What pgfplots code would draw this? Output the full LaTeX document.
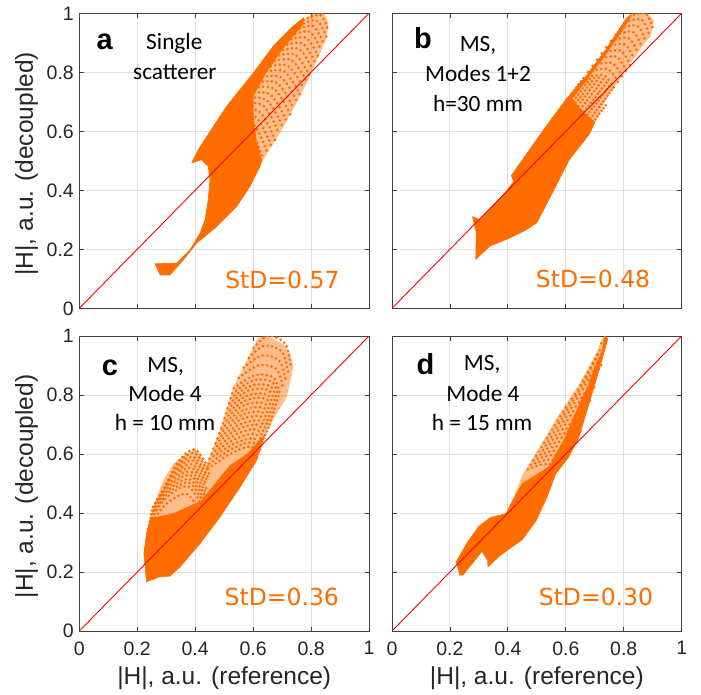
\documentclass[border=0pt]{standalone}
\usepackage{pgfplots}
\pgfplotsset{compat=1.18}
\usepackage{fontspec}
\setmainfont{Liberation Sans}
\newfontfamily\annfont{Carlito}
\newfontfamily\stdfont{DejaVu Sans}
\definecolor{orng}{RGB}{255,108,0}
\definecolor{gridc}{RGB}{223,223,223}
\definecolor{axc}{RGB}{64,64,64}
\definecolor{txtc}{RGB}{38,38,38}
\pgfplotsset{
  panel/.style={
    scale only axis, width=289.7pt, height=295pt, anchor=south west,
    xmin=0, xmax=1, ymin=0, ymax=1,
    xtick={0,0.2,0.4,0.6,0.8,1}, ytick={0,0.2,0.4,0.6,0.8,1},
    tick pos=both, tick align=inside, major tick length=4.5pt,
    grid=major, major grid style={gridc, line width=0.9pt},
    axis line style={axc, line width=0.9pt},
    tick style={axc, line width=0.8pt},
    tick label style={font=\fontsize{19.5}{20}\selectfont, text=txtc},
    /pgf/number format/assume math mode=true,
    xticklabel style={yshift=-7pt},
    yticklabel style={xshift=-2pt},
    label style={font=\fontsize{24.5}{26}\selectfont, text=txtc},
    xlabel style={at={(axis description cs:0.5,-0.161)}, anchor=center},
    ylabel style={at={(axis description cs:-0.1816,0.49)}, anchor=center},
  },
}
\tikzset{
  halo/.style={draw=none, fill=orng, fill opacity=0.45},
  core/.style={draw=orng, fill=orng, line width=0.6pt, line join=round},
  dots/.style={orng, line width=2.9pt, line cap=round, dash pattern=on 0pt off 4.6pt, smooth, tension=0.55},
  diag/.style={red, line width=0.9pt},
  ann/.style={anchor=base, font=\annfont\fontsize{23.3}{28}\selectfont, text=black},
  std/.style={anchor=base, font=\stdfont\fontsize{23.5}{28}\selectfont, text=orng},
  lett/.style={anchor=base west, font=\bfseries\fontsize{29}{30}\selectfont, text=black},
}
\begin{document}
\begin{tikzpicture}[x=1pt,y=1pt]
\path[use as bounding box] (0,0) rectangle (701,694);

% ---------------- panel a
\begin{axis}[panel, at={(79.3pt,385.7pt)}, xticklabels={},
  ylabel={|H|, a.u. (decoupled)}]
\addplot[halo] coordinates {(0.463,0.617)(0.509,0.685)(0.601,0.798)(0.670,0.889)(0.739,0.957)(0.808,1.0)(0.845,1.0)(0.860,0.97)
 (0.855,0.92)(0.831,0.866)(0.785,0.764)(0.750,0.697)(0.693,0.595)(0.635,0.504)(0.589,0.413)(0.55,0.45)} -- cycle;
\addplot[core] coordinates {(0.388,0.493)(0.411,0.538)(0.463,0.617)(0.509,0.685)(0.601,0.798)(0.670,0.889)(0.739,0.957)(0.775,0.985)
 (0.77,0.96)(0.705,0.885)(0.645,0.80)(0.60,0.72)(0.60,0.66)(0.61,0.57)(0.63,0.50)(0.623,0.48)(0.589,0.413)(0.543,0.345)
 (0.474,0.277)(0.405,0.221)(0.359,0.164)(0.313,0.113)(0.279,0.113)(0.261,0.151)(0.336,0.153)(0.382,0.198)(0.417,0.255)
 (0.434,0.300)(0.445,0.368)(0.451,0.436)(0.445,0.481)(0.422,0.504)} -- cycle;
\addplot[dots] coordinates {(0.470,0.620)(0.582,0.612)(0.635,0.504)};
\addplot[dots] coordinates {(0.485,0.638)(0.594,0.631)(0.649,0.526)};
\addplot[dots] coordinates {(0.499,0.655)(0.607,0.650)(0.663,0.548)};
\addplot[dots] coordinates {(0.514,0.673)(0.619,0.669)(0.676,0.569)};
\addplot[dots] coordinates {(0.528,0.690)(0.632,0.689)(0.690,0.591)};
\addplot[dots] coordinates {(0.543,0.708)(0.644,0.708)(0.703,0.613)};
\addplot[dots] coordinates {(0.557,0.725)(0.656,0.727)(0.715,0.635)};
\addplot[dots] coordinates {(0.572,0.743)(0.669,0.746)(0.728,0.657)};
\addplot[dots] coordinates {(0.586,0.760)(0.681,0.765)(0.739,0.678)};
\addplot[dots] coordinates {(0.601,0.778)(0.694,0.784)(0.752,0.700)};
\addplot[dots] coordinates {(0.615,0.795)(0.706,0.804)(0.763,0.722)};
\addplot[dots] coordinates {(0.630,0.813)(0.718,0.823)(0.775,0.744)};
\addplot[dots] coordinates {(0.644,0.830)(0.731,0.842)(0.786,0.766)};
\addplot[dots] coordinates {(0.659,0.848)(0.743,0.861)(0.795,0.787)};
\addplot[dots] coordinates {(0.673,0.865)(0.756,0.880)(0.805,0.809)};
\addplot[dots] coordinates {(0.688,0.883)(0.768,0.899)(0.815,0.831)};
\addplot[dots] coordinates {(0.702,0.900)(0.780,0.918)(0.825,0.853)};
\addplot[dots] coordinates {(0.717,0.918)(0.793,0.938)(0.835,0.875)};
\addplot[dots] coordinates {(0.731,0.935)(0.805,0.957)(0.844,0.896)};
\addplot[dots] coordinates {(0.746,0.953)(0.818,0.976)(0.854,0.918)};
\addplot[dots] coordinates {(0.760,0.970)(0.830,0.995)(0.860,0.940)};
\addplot[diag] coordinates {(0,0)(1,1)};
\node[lett] at (axis cs:0.048,0.878) {a};
\node[ann] at (axis cs:0.328,0.878) {Single};
\node[ann] at (axis cs:0.330,0.776) {scatterer};
\node[std] at (axis cs:0.701,0.068) {StD=0.57};
\end{axis}

% ---------------- panel b
\begin{axis}[panel, at={(392pt,385.7pt)}, xticklabels={}, yticklabels={}]
\addplot[halo] coordinates {(0.412,0.45)(0.475,0.538)(0.532,0.617)(0.601,0.708)(0.670,0.787)(0.739,0.878)(0.807,0.980)(0.842,1.0)
 (0.882,1.0)(0.904,0.975)(0.893,0.923)(0.865,0.889)(0.807,0.810)(0.739,0.708)(0.681,0.59)(0.612,0.504)(0.565,0.45)} -- cycle;
\addplot[core] coordinates {(0.412,0.45)(0.475,0.538)(0.532,0.617)(0.601,0.708)(0.670,0.787)(0.739,0.878)(0.807,0.980)(0.83,1.0)
 (0.80,0.95)(0.73,0.85)(0.66,0.76)(0.62,0.71)(0.66,0.665)(0.70,0.63)(0.681,0.59)(0.612,0.504)(0.565,0.413)(0.50,0.29)
 (0.463,0.266)(0.417,0.243)(0.337,0.210)(0.289,0.166)(0.291,0.255)(0.278,0.311)(0.303,0.300)(0.337,0.334)(0.394,0.396)(0.42,0.43)} -- cycle;
\addplot[dots] coordinates {(0.548,0.633)(0.629,0.643)(0.679,0.593)};
\addplot[dots] coordinates {(0.556,0.644)(0.636,0.654)(0.686,0.604)};
\addplot[dots] coordinates {(0.564,0.654)(0.643,0.664)(0.692,0.614)};
\addplot[dots] coordinates {(0.572,0.665)(0.650,0.675)(0.699,0.625)};
\addplot[dots] coordinates {(0.580,0.675)(0.658,0.685)(0.705,0.635)};
\addplot[dots] coordinates {(0.588,0.686)(0.665,0.696)(0.712,0.646)};
\addplot[dots] coordinates {(0.596,0.696)(0.672,0.706)(0.718,0.656)};
\addplot[dots] coordinates {(0.604,0.707)(0.679,0.717)(0.725,0.667)};
\addplot[dots] coordinates {(0.612,0.717)(0.687,0.727)(0.731,0.677)};
\addplot[dots] coordinates {(0.620,0.728)(0.694,0.738)(0.738,0.688)};
\addplot[dots] coordinates {(0.628,0.738)(0.701,0.748)(0.744,0.698)};
\addplot[dots] coordinates {(0.636,0.749)(0.708,0.759)(0.751,0.709)};
\addplot[dots] coordinates {(0.644,0.759)(0.716,0.769)(0.757,0.719)};
\addplot[dots] coordinates {(0.652,0.770)(0.723,0.780)(0.764,0.730)};
\addplot[dots] coordinates {(0.660,0.780)(0.730,0.790)(0.770,0.740)};
\addplot[dots] coordinates {(0.676,0.801)(0.745,0.811)(0.783,0.761)};
\addplot[dots] coordinates {(0.692,0.822)(0.759,0.832)(0.796,0.782)};
\addplot[dots] coordinates {(0.708,0.843)(0.774,0.853)(0.809,0.803)};
\addplot[dots] coordinates {(0.724,0.864)(0.788,0.874)(0.822,0.824)};
\addplot[dots] coordinates {(0.740,0.885)(0.803,0.895)(0.835,0.845)};
\addplot[dots] coordinates {(0.756,0.906)(0.817,0.916)(0.848,0.866)};
\addplot[dots] coordinates {(0.772,0.927)(0.832,0.937)(0.861,0.887)};
\addplot[dots] coordinates {(0.788,0.948)(0.846,0.958)(0.874,0.908)};
\addplot[dots] coordinates {(0.804,0.969)(0.861,0.979)(0.887,0.929)};
\addplot[dots] coordinates {(0.820,0.990)(0.875,1.000)(0.900,0.950)};
\addplot[diag] coordinates {(0,0)(1,1)};
\node[lett] at (axis cs:0.064,0.880) {b};
\node[ann] at (axis cs:0.297,0.872) {MS,};
\node[ann] at (axis cs:0.297,0.770) {Modes 1+2};
\node[ann] at (axis cs:0.297,0.668) {h=30 mm};
\node[std] at (axis cs:0.694,0.071) {StD=0.48};
\end{axis}

% ---------------- panel c
\begin{axis}[panel, at={(79.3pt,63pt)},
  xlabel={|H|, a.u. (reference)}, ylabel={|H|, a.u. (decoupled)}]
\addplot[halo] coordinates {(0.232,0.167)(0.223,0.263)(0.232,0.330)(0.255,0.421)(0.290,0.511)(0.325,0.567)(0.371,0.601)(0.399,0.618)
 (0.417,0.601)(0.434,0.556)(0.440,0.567)(0.463,0.623)(0.486,0.680)(0.532,0.826)(0.601,0.962)(0.618,0.995)(0.647,1.0)(0.704,0.973)
 (0.727,0.939)(0.739,0.894)(0.716,0.793)(0.681,0.736)(0.640,0.665)(0.612,0.578)(0.555,0.488)(0.486,0.387)(0.417,0.297)
 (0.348,0.218)(0.313,0.186)(0.278,0.184)} -- cycle;
\addplot[core] coordinates {(0.232,0.167)(0.223,0.263)(0.232,0.330)(0.245,0.38)(0.33,0.40)(0.42,0.44)(0.47,0.50)(0.52,0.56)
 (0.58,0.60)(0.64,0.665)(0.612,0.578)(0.555,0.488)(0.486,0.387)(0.417,0.297)(0.348,0.218)(0.313,0.186)(0.278,0.184)} -- cycle;
% big lobe
\addplot[dots] coordinates {(0.445,0.550)(0.520,0.600)(0.590,0.625)(0.620,0.600)};
\addplot[dots] coordinates {(0.448,0.567)(0.526,0.617)(0.595,0.640)(0.625,0.613)};
\addplot[dots] coordinates {(0.450,0.584)(0.531,0.633)(0.600,0.654)(0.629,0.625)};
\addplot[dots] coordinates {(0.457,0.601)(0.537,0.650)(0.605,0.669)(0.634,0.638)};
\addplot[dots] coordinates {(0.463,0.618)(0.542,0.667)(0.610,0.684)(0.638,0.650)};
\addplot[dots] coordinates {(0.470,0.636)(0.548,0.684)(0.615,0.699)(0.643,0.663)};
\addplot[dots] coordinates {(0.477,0.653)(0.553,0.700)(0.620,0.713)(0.648,0.675)};
\addplot[dots] coordinates {(0.484,0.670)(0.558,0.717)(0.625,0.728)(0.653,0.688)};
\addplot[dots] coordinates {(0.490,0.687)(0.563,0.733)(0.630,0.742)(0.657,0.700)};
\addplot[dots] coordinates {(0.496,0.704)(0.569,0.750)(0.635,0.757)(0.662,0.713)};
\addplot[dots] coordinates {(0.501,0.721)(0.574,0.767)(0.640,0.771)(0.666,0.725)};
\addplot[dots] coordinates {(0.507,0.738)(0.580,0.784)(0.645,0.786)(0.671,0.738)};
\addplot[dots] coordinates {(0.512,0.755)(0.585,0.800)(0.650,0.800)(0.675,0.750)};
\addplot[dots] coordinates {(0.517,0.772)(0.591,0.817)(0.655,0.815)(0.680,0.763)};
\addplot[dots] coordinates {(0.522,0.789)(0.596,0.833)(0.660,0.829)(0.684,0.775)};
\addplot[dots] coordinates {(0.528,0.806)(0.602,0.850)(0.665,0.844)(0.689,0.788)};
\addplot[dots] coordinates {(0.533,0.823)(0.607,0.867)(0.670,0.859)(0.693,0.800)};
\addplot[dots] coordinates {(0.550,0.858)(0.618,0.900)(0.680,0.888)(0.703,0.825)};
\addplot[dots] coordinates {(0.567,0.892)(0.628,0.933)(0.690,0.917)(0.712,0.850)};
\addplot[dots] coordinates {(0.585,0.926)(0.639,0.967)(0.700,0.946)(0.721,0.875)};
\addplot[dots] coordinates {(0.602,0.960)(0.650,1.000)(0.710,0.975)(0.730,0.900)};
% small lobe
\addplot[dots] coordinates {(0.303,0.495)(0.342,0.575)(0.400,0.615)(0.450,0.545)};
\addplot[dots] coordinates {(0.295,0.483)(0.337,0.563)(0.398,0.603)(0.448,0.533)};
\addplot[dots] coordinates {(0.287,0.470)(0.331,0.550)(0.395,0.590)(0.445,0.520)};
\addplot[dots] coordinates {(0.279,0.458)(0.326,0.538)(0.393,0.578)(0.443,0.508)};
\addplot[dots] coordinates {(0.270,0.445)(0.320,0.525)(0.390,0.565)(0.440,0.495)};
\addplot[dots] coordinates {(0.262,0.433)(0.315,0.513)(0.388,0.553)(0.438,0.483)};
\addplot[dots] coordinates {(0.254,0.420)(0.310,0.500)(0.385,0.540)(0.435,0.470)};
\addplot[dots] coordinates {(0.251,0.408)(0.307,0.488)(0.383,0.528)(0.433,0.458)};
\addplot[dots] coordinates {(0.248,0.395)(0.304,0.475)(0.380,0.515)(0.430,0.445)};
\addplot[dots] coordinates {(0.246,0.383)(0.302,0.463)(0.378,0.503)(0.428,0.433)};
\addplot[dots] coordinates {(0.243,0.370)(0.299,0.450)(0.375,0.490)(0.425,0.420)};
\addplot[dots] coordinates {(0.237,0.345)(0.294,0.425)(0.370,0.465)(0.420,0.395)};
\addplot[diag] coordinates {(0,0)(1,1)};
\node[lett] at (axis cs:0.066,0.866) {c};
\node[ann] at (axis cs:0.298,0.877) {MS,};
\node[ann] at (axis cs:0.296,0.778) {Mode 4};
\node[ann] at (axis cs:0.296,0.680) {h = 10 mm};
\node[std] at (axis cs:0.699,0.085) {StD=0.36};
\end{axis}

% ---------------- panel d
\begin{axis}[panel, at={(392pt,63pt)}, yticklabels={},
  xlabel={|H|, a.u. (reference)}]
\addplot[halo] coordinates {(0.394,0.398)(0.415,0.44)(0.452,0.533)(0.509,0.623)(0.578,0.736)(0.647,0.838)(0.704,0.939)(0.727,0.995)
 (0.735,1.0)(0.745,0.99)(0.714,0.883)(0.680,0.770)(0.645,0.657)(0.61,0.59)(0.565,0.533)(0.535,0.454)} -- cycle;
\addplot[core] coordinates {(0.234,0.189)(0.222,0.235)(0.26,0.30)(0.30,0.355)(0.34,0.385)(0.394,0.398)(0.415,0.44)(0.45,0.50)
 (0.50,0.53)(0.545,0.56)(0.561,0.59)(0.595,0.65)(0.621,0.71)(0.648,0.77)(0.676,0.83)(0.700,0.89)(0.726,0.95)(0.735,1.0)
 (0.745,0.99)(0.714,0.883)(0.680,0.770)(0.645,0.657)(0.61,0.59)(0.565,0.533)(0.535,0.454)(0.498,0.375)(0.45,0.31)(0.40,0.275)
 (0.372,0.255)(0.331,0.217)(0.33,0.24)(0.31,0.27)(0.27,0.22)(0.245,0.19)} -- cycle;
\addplot[dots] coordinates {(0.469,0.548)(0.528,0.566)(0.586,0.556)};
\addplot[dots] coordinates {(0.479,0.563)(0.539,0.581)(0.598,0.571)};
\addplot[dots] coordinates {(0.488,0.578)(0.549,0.596)(0.610,0.586)};
\addplot[dots] coordinates {(0.498,0.593)(0.558,0.611)(0.618,0.601)};
\addplot[dots] coordinates {(0.507,0.608)(0.567,0.626)(0.626,0.616)};
\addplot[dots] coordinates {(0.516,0.623)(0.575,0.641)(0.634,0.631)};
\addplot[dots] coordinates {(0.525,0.638)(0.583,0.656)(0.641,0.646)};
\addplot[dots] coordinates {(0.535,0.653)(0.591,0.671)(0.647,0.661)};
\addplot[dots] coordinates {(0.544,0.668)(0.598,0.686)(0.652,0.676)};
\addplot[dots] coordinates {(0.553,0.683)(0.605,0.701)(0.657,0.691)};
\addplot[dots] coordinates {(0.562,0.698)(0.612,0.716)(0.661,0.706)};
\addplot[dots] coordinates {(0.572,0.713)(0.619,0.731)(0.666,0.721)};
\addplot[dots] coordinates {(0.581,0.728)(0.626,0.746)(0.671,0.736)};
\addplot[dots] coordinates {(0.591,0.743)(0.634,0.761)(0.676,0.751)};
\addplot[dots] coordinates {(0.601,0.758)(0.641,0.776)(0.680,0.766)};
\addplot[dots] coordinates {(0.611,0.773)(0.648,0.791)(0.685,0.781)};
\addplot[dots] coordinates {(0.621,0.788)(0.655,0.806)(0.689,0.796)};
\addplot[dots] coordinates {(0.632,0.803)(0.663,0.821)(0.694,0.811)};
\addplot[dots] coordinates {(0.642,0.818)(0.670,0.836)(0.698,0.826)};
\addplot[dots] coordinates {(0.651,0.833)(0.677,0.851)(0.703,0.841)};
\addplot[dots] coordinates {(0.659,0.848)(0.683,0.866)(0.707,0.856)};
\addplot[dots] coordinates {(0.668,0.863)(0.690,0.881)(0.712,0.871)};
\addplot[dots] coordinates {(0.676,0.878)(0.696,0.896)(0.716,0.886)};
\addplot[dots] coordinates {(0.685,0.893)(0.703,0.911)(0.722,0.901)};
\addplot[dots] coordinates {(0.693,0.908)(0.710,0.926)(0.727,0.916)};
\addplot[dots] coordinates {(0.701,0.923)(0.717,0.941)(0.732,0.931)};
\addplot[dots] coordinates {(0.709,0.938)(0.723,0.956)(0.737,0.946)};
\addplot[dots] coordinates {(0.722,0.975)(0.737,0.990)};
\addplot[diag] coordinates {(0,0)(1,1)};
\node[lett] at (axis cs:0.073,0.871) {d};
\node[ann] at (axis cs:0.311,0.883) {MS,};
\node[ann] at (axis cs:0.314,0.778) {Mode 4};
\node[ann] at (axis cs:0.311,0.680) {h = 15 mm};
\node[std] at (axis cs:0.704,0.088) {StD=0.30};
\end{axis}
\end{tikzpicture}
\end{document}
